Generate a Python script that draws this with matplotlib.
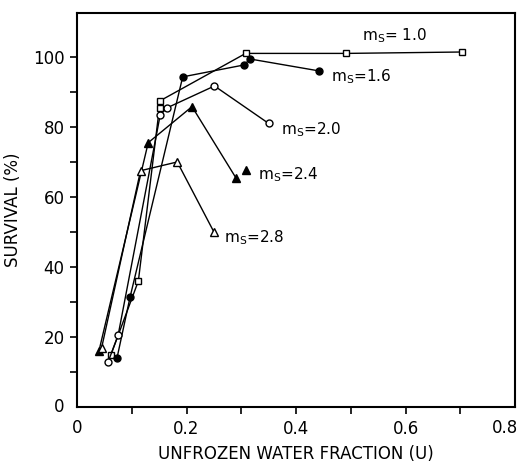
import matplotlib
matplotlib.use('Agg')
import matplotlib.pyplot as plt

# survival (%) vs unfrozen water fraction U, one series per m_S
u_10 = [0.062, 0.112, 0.152, 0.308, 0.492, 0.703]
s_10 = [15, 36, 87.5, 101, 101, 101.4]
u_16 = [0.073, 0.097, 0.193, 0.305, 0.316, 0.442]
s_16 = [14, 31.5, 94.3, 97.7, 99.4, 96]
u_20 = [0.057, 0.075, 0.152, 0.165, 0.251, 0.35]
s_20 = [13, 20.5, 83.5, 85.5, 91.7, 81]
u_24 = [0.04, 0.13, 0.21, 0.29]
s_24 = [16, 75.5, 85.8, 65.5]
u_28 = [0.045, 0.116, 0.183, 0.25]
s_28 = [17, 67.5, 70, 50]

# stray points without connecting line
extra_sq_u, extra_sq_s = [0.152], [85.5]
extra_tri_u, extra_tri_s = [0.308], [67.8]

labels = ['m$_\\mathrm{S}$= 1.0', 'm$_\\mathrm{S}$=1.6', 'm$_\\mathrm{S}$=2.0',
          'm$_\\mathrm{S}$=2.4', 'm$_\\mathrm{S}$=2.8']
label_pos = [(0.52, 106), (0.464, 94.3), (0.372, 79.2), (0.33, 66.4), (0.268, 48.4)]

fig = plt.figure(figsize=(5.24, 4.69), dpi=100)
ax = fig.add_axes([0.147, 0.132, 0.836, 0.840])

lw = 1.0
ax.plot(u_10, s_10, '-', color='k', lw=lw, marker='s', ms=4.5, mfc='white', mec='k', mew=1.0)
ax.plot(u_16, s_16, '-', color='k', lw=lw, marker='o', ms=5, mfc='k', mec='k')
ax.plot(u_20, s_20, '-', color='k', lw=lw, marker='o', ms=5, mfc='white', mec='k', mew=1.0)
ax.plot(u_24, s_24, '-', color='k', lw=lw, marker='^', ms=6, mfc='k', mec='k')
ax.plot(u_28, s_28, '-', color='k', lw=lw, marker='^', ms=6, mfc='white', mec='k', mew=1.0)
ax.plot(extra_sq_u, extra_sq_s, 's', ms=4.5, mfc='white', mec='k', mew=1.0)
ax.plot(extra_tri_u, extra_tri_s, '^', ms=6, mfc='k', mec='k')

for lab, (x, y) in zip(labels, label_pos):
    ax.text(x, y, lab, fontsize=11, va='center', ha='left')

fs = 12
ax.set_xlim(0, 0.8)
ax.set_ylim(0, 112.5)
ax.set_xticks([0.1, 0.2, 0.3, 0.4, 0.5, 0.6, 0.7])
ax.set_xticklabels(['', '0.2', '', '0.4', '', '0.6', ''])
ax.set_yticks([10, 20, 30, 40, 50, 60, 70, 80, 90, 100])
ax.set_yticklabels(['', '20', '', '40', '', '60', '', '80', '', '100'])
# corner labels without tick marks
ax.text(0, -3.4, '0', fontsize=fs, ha='center', va='top')
ax.text(0.806, -3.4, '0.8', fontsize=fs, ha='right', va='top')
ax.text(-0.024, 0, '0', fontsize=fs, ha='right', va='center')

ax.tick_params(direction='out', length=5, width=1.2, labelsize=fs, pad=4)
for sp in ax.spines.values():
    sp.set_linewidth(1.5)

ax.set_xlabel('UNFROZEN WATER FRACTION (U)', fontsize=fs, labelpad=5)
ax.set_ylabel('SURVIVAL (%)', fontsize=fs, labelpad=8)

fig.savefig('out.png', dpi=100)
